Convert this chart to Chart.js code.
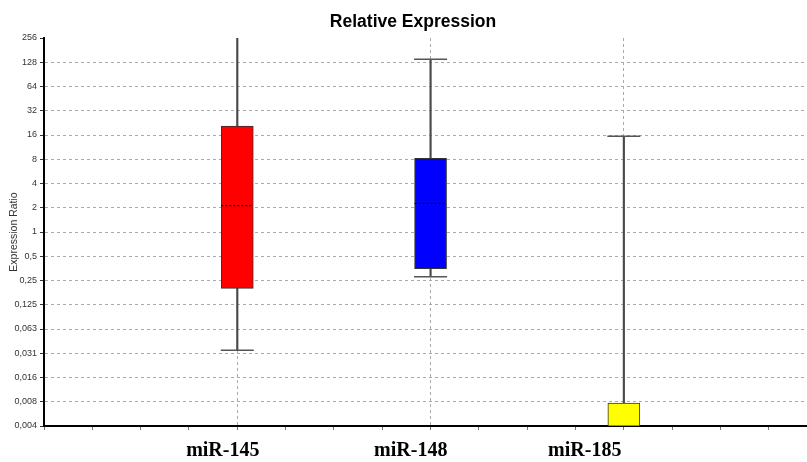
<!DOCTYPE html>
<html>
<head>
<meta charset="utf-8">
<script src="https://cdn.jsdelivr.net/npm/chart.js@4.4.0/dist/chart.umd.min.js"></script>
<style>
  body { margin: 0; background: #fff; }
  canvas { display: block; }
</style>
</head>
<body>
<canvas id="boxChart" width="807" height="462"></canvas>
<script>
// categories and values
var categories = ['miR-145', 'miR-148', 'miR-185'];
var boxColors = ['#ff0000', '#0000ff', '#ffff00'];
var boxLow = [0.2, 0.35, 0.0039];
var boxHigh = [20.7, 8.2, 0.0075];
var medians = [2.12, 2.27, null];
var whiskerLow = [0.034, 0.279, null];
var whiskerHigh = [300, 139, 15.4];

// y tick values (powers of two) and their labels
var yTicks = [0.00390625, 0.0078125, 0.015625, 0.03125, 0.0625, 0.125, 0.25, 0.5, 1, 2, 4, 8, 16, 32, 64, 128, 256];
var yTickLabels = ['0,004', '0,008', '0,016', '0,031', '0,063', '0,125', '0,25', '0,5', '1', '2', '4', '8', '16', '32', '64', '128', '256'];

// layout: category i sits at x = 4*(i+1); the names are printed a bit to the left
function catX(i) { return 4 * (i + 1); }
var labelPositions = [3.7, 7.59, 11.19];
var halfBox = 0.33;

var boxData = categories.map(function (c, i) {
    return { x: catX(i), y: [boxLow[i], boxHigh[i]] };
});
var whiskerData = categories.map(function (c, i) {
    var lo = whiskerLow[i] !== null ? whiskerLow[i] : boxLow[i];
    return { x: catX(i), y: [lo, whiskerHigh[i]] };
});
var capData = [];
categories.forEach(function (c, i) {
    if (whiskerLow[i] !== null) capData.push({ x: catX(i), y: whiskerLow[i] });
    capData.push({ x: catX(i), y: whiskerHigh[i] });
});
var medianData = [];
categories.forEach(function (c, i) {
    if (medians[i] === null) return;
    medianData.push({ x: catX(i) - halfBox, y: medians[i] });
    medianData.push({ x: catX(i) + halfBox, y: medians[i] });
    medianData.push({ x: catX(i), y: null });
});

var titlePlugin = {
    id: 'titleText',
    afterDraw: function (chart) {
        var ctx = chart.ctx;
        ctx.save();
        ctx.font = 'bold 17.5px "Liberation Sans", Arial, sans-serif';
        ctx.fillStyle = '#000';
        ctx.textAlign = 'center';
        ctx.textBaseline = 'alphabetic';
        ctx.fillText('Relative Expression', 413, 27);
        ctx.restore();
    }
};

function isLabelTick(v) { return labelPositions.indexOf(v) >= 0; }

var ctx = document.getElementById('boxChart').getContext('2d');
var chart = new Chart(ctx, {
    type: 'bar',
    data: {
        datasets: [{
            label: 'boxes',
            data: boxData,
            backgroundColor: boxColors,
            borderColor: '#333',
            borderWidth: 1,
            borderSkipped: false,
            barThickness: 32,
            grouped: false,
            order: 1
        }, {
            label: 'whiskers',
            data: whiskerData,
            backgroundColor: '#4a4a4a',
            borderWidth: 0,
            barThickness: 1.5,
            grouped: false,
            clip: 0,
            order: 3
        }, {
            type: 'scatter',
            label: 'caps',
            data: capData,
            pointStyle: 'line',
            radius: 16.5,
            borderColor: '#555',
            borderWidth: 1.5,
            clip: 0,
            order: 2
        }, {
            type: 'line',
            label: 'medians',
            data: medianData,
            borderColor: '#000',
            borderWidth: 1.2,
            borderDash: [2, 2],
            pointRadius: 0,
            spanGaps: false,
            order: 0
        }]
    },
    options: {
        responsive: false,
        animation: false,
        layout: { autoPadding: false, padding: { top: 38, right: 0, bottom: 0, left: 0 } },
        plugins: {
            legend: { display: false },
            tooltip: { enabled: false },
            title: { display: false }
        },
        scales: {
            x: {
                type: 'linear',
                min: 0,
                max: 15.79,
                offset: false,
                afterBuildTicks: function (scale) {
                    var vals = [];
                    for (var v = 0; v <= 15; v++) vals.push(v);
                    vals = vals.concat(labelPositions).sort(function (a, b) { return a - b; });
                    scale.ticks = vals.map(function (v) { return { value: v }; });
                },
                afterFit: function (scale) { scale.height = 36; },
                grid: {
                    offset: false,
                    color: function (c) {
                        var v = c.tick ? c.tick.value : null;
                        return (v === 4 || v === 8 || v === 12) ? '#aaa' : 'transparent';
                    },
                    tickColor: function (c) {
                        return (c.tick && isLabelTick(c.tick.value)) ? 'transparent' : '#777';
                    },
                    tickLength: 4
                },
                border: { display: true, color: '#000', width: 2, dash: [3, 3] },
                ticks: {
                    autoSkip: false,
                    maxRotation: 0,
                    padding: 0,
                    color: '#000',
                    font: { family: '"Liberation Serif", "Times New Roman", serif', size: 20, weight: 'bold', lineHeight: 2.1 },
                    callback: function (v) {
                        var i = labelPositions.indexOf(v);
                        return i >= 0 ? categories[i] : '';
                    }
                }
            },
            y: {
                type: 'logarithmic',
                min: yTicks[0],
                max: yTicks[yTicks.length - 1],
                afterFit: function (scale) { scale.width = 44; },
                afterBuildTicks: function (scale) {
                    scale.ticks = yTicks.map(function (v) { return { value: v }; });
                },
                grid: {
                    color: function (c) {
                        return (c.tick && c.tick.value >= 256) ? 'transparent' : '#aaa';
                    },
                    tickColor: '#333',
                    tickLength: 4
                },
                border: { display: true, color: '#000', width: 2, dash: [3, 3] },
                title: {
                    display: true,
                    text: 'Expression Ratio',
                    color: '#333',
                    padding: { top: 8, bottom: 0 },
                    font: { family: '"Liberation Sans", Arial, sans-serif', size: 10.5 }
                },
                ticks: {
                    autoSkip: false,
                    padding: 3,
                    color: '#333',
                    font: { family: '"Liberation Sans", Arial, sans-serif', size: 9 },
                    callback: function (v, i) { return yTickLabels[i]; }
                }
            }
        }
    },
    plugins: [titlePlugin]
});
</script>
</body>
</html>
